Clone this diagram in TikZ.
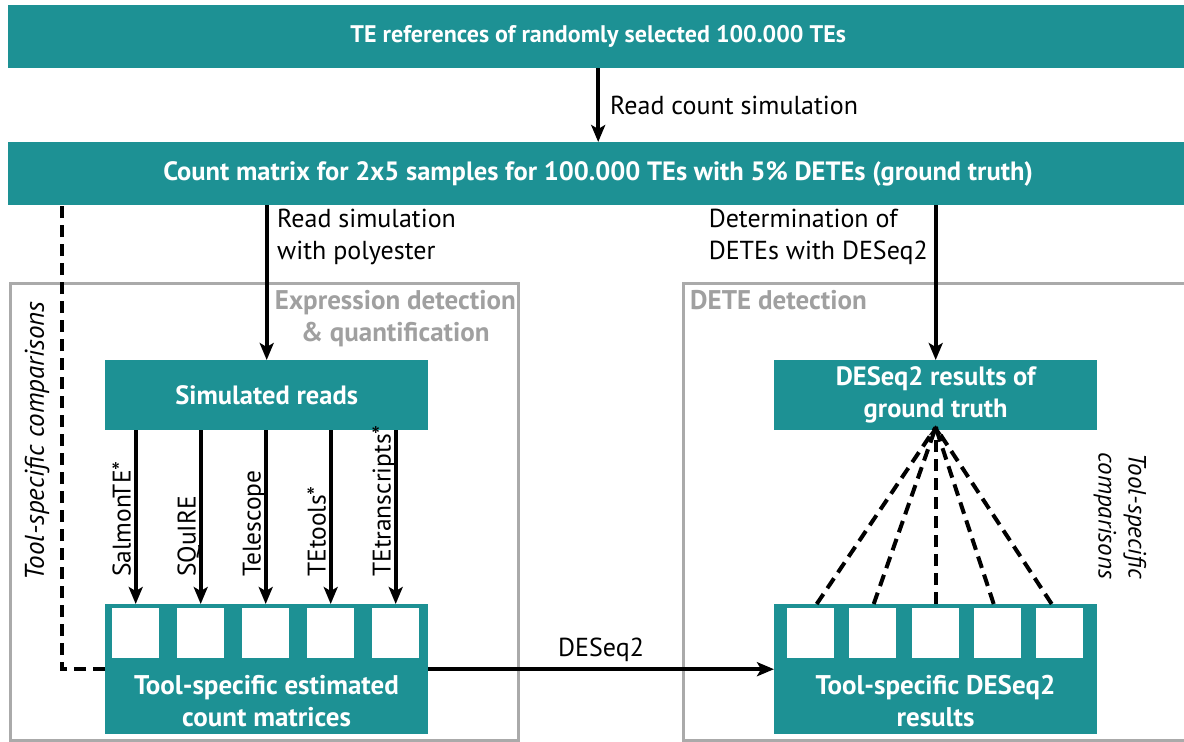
\documentclass[tikz,border=0pt]{standalone}
\usepackage{fontspec}
\setmainfont{PT Sans}
\usetikzlibrary{arrows.meta}
\definecolor{tealbox}{RGB}{29,145,148}
\definecolor{framegray}{RGB}{170,170,170}
\definecolor{labelgray}{RGB}{160,160,160}
\begin{document}
\begin{tikzpicture}[x=1pt,y=-1pt,
  box/.style={fill=tealbox, draw=none, text=white, anchor=north west, inner sep=0pt,
    align=center, font=\bfseries\fontsize{26.5}{32}\selectfont},
  cell/.style={fill=white, draw=none, anchor=north west, minimum width=47pt,
    minimum height=50pt, inner sep=0pt},
  arr/.style={line width=3.6pt, -{Stealth[length=17pt,width=14pt,inset=4pt]}},
  dsh/.style={line width=4pt, dash pattern=on 12pt off 7pt},
  lbl/.style={font=\fontsize{26}{32}\selectfont, inner sep=0pt, align=left},
  tool/.style={font=\fontsize{25.5}{30}\selectfont, inner sep=0pt, rotate=90, anchor=base west},
  frame/.style={draw=framegray, line width=3pt},
  ftitle/.style={text=labelgray, font=\bfseries\fontsize{27}{32}\selectfont, inner sep=0pt, align=center},
  inlbl/.style={text=white, font=\bfseries\fontsize{27}{32}\selectfont, align=center, inner sep=0pt}
]
\useasboundingbox (0,0) rectangle (1184,742);

% section frames
\draw[frame] (10,283) rectangle (518,740);
\draw[frame] (683,283) rectangle (1192,740);
\node[ftitle, anchor=north east] (ftl) at (516,290) {Expression detection\\\& quantification};
\node[ftitle, anchor=north west] (ftr) at (690,290) {DETE detection};

% banners
\node[box, minimum width=1180pt, minimum height=63pt, font=\bfseries\fontsize{24}{30}\selectfont] (top) at (8,5) {TE references of randomly selected 100.000 TEs};
\node[box, minimum width=1180pt, minimum height=63pt] (gt) at (8,142) {Count matrix for 2x5 samples for 100.000 TEs with 5\% DETEs (ground truth)};

% left column
\node[box, minimum width=323pt, minimum height=70pt] (sim) at (105,360) {Simulated reads};
\node[box, minimum width=323pt, minimum height=130pt] (est) at (105,604) {};
\node[inlbl] (estl) at (266.5,701) {Tool-specific estimated\\count matrices};
\node[cell] (s1) at (112,608) {};
\node[cell] (s2) at (177,608) {};
\node[cell] (s3) at (242,608) {};
\node[cell] (s4) at (307,608) {};
\node[cell] (s5) at (372,608) {};

% right column
\node[box, minimum width=323pt, minimum height=70pt] (dgt) at (774,360) {DESeq2 results of\\ground truth};
\node[box, minimum width=323pt, minimum height=130pt] (res) at (774,604) {};
\node[inlbl] (resl) at (935.5,701) {Tool-specific DESeq2\\results};
\node[cell] (r1) at (787,608) {};
\node[cell] (r2) at (849,608) {};
\node[cell] (r3) at (912,608) {};
\node[cell] (r4) at (974,608) {};
\node[cell] (r5) at (1036,608) {};

% main flow
\draw[arr] (top) -- (gt);
\node[lbl, anchor=west] (l1) at (610,105) {Read count simulation};
\draw[arr] (gt.south -| sim.north) -- (sim.north);
\node[lbl, anchor=north west] (l2) at (277,209) {Read simulation\\with polyester};
\draw[arr] (gt.south -| dgt.north) -- (dgt.north);
\node[lbl, anchor=north east] (l3) at (928,209) {Determination of\\DETEs with DESeq2};

% quantification tools
\foreach \s/\t in {s1/SalmonTE*, s2/SQuIRE, s3/Telescope, s4/TEtools*, s5/TEtranscripts*}{
  \draw[arr] (sim.south -| \s) -- (est.north -| \s);
  \node[tool] at ([xshift=-5pt]\s.center |- 0,577) {\t};
}

% differential expression
\draw[arr] (est.east) -- (est.east -| res.west);
\node[lbl, anchor=south] (l4) at (601,662) {DESeq2};

% comparisons against ground truth
\coordinate (cmp) at ([yshift=3pt]dgt.south);
\foreach \r/\dx in {r1/6, r2/1, r3/0, r4/-4, r5/-8}{
  \draw[dsh] ([xshift=\dx pt]\r.center |- res.north) -- (cmp);
}
\fill (cmp) ++(0,-2) -- ++(-7,10) -- ++(7,-3) -- ++(7,3) -- cycle;
\node[font=\itshape\fontsize{25}{30}\selectfont, rotate=-90, align=center, inner sep=0pt] (cr) at (1120,516) {Tool-specific\\comparisons};

\coordinate (lx) at (62,0);
\draw[dsh] (est.west) -- (est.west -| lx) -- (gt.south -| lx);
\node[font=\itshape\fontsize{27}{30}\selectfont, rotate=90, inner sep=0pt] (cl) at (37,441) {Tool-specific comparisons};
\end{tikzpicture}
\end{document}
